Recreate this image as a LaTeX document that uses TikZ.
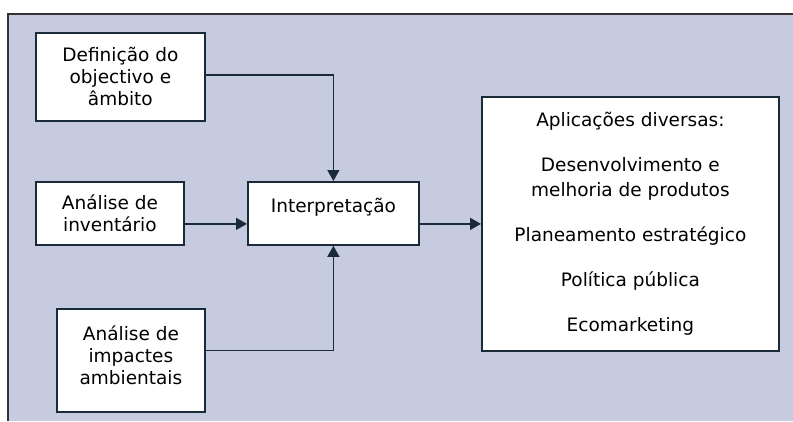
\documentclass[tikz,border=0pt]{standalone}
\usepackage{fontspec}
\setmainfont{DejaVu Sans}
\usepackage{xcolor}
\definecolor{acvBack}{rgb}{0.776,0.796,0.878}
\definecolor{acvBorder}{rgb}{0.1,0.17,0.22}
\usetikzlibrary{arrows.meta}
\usetikzlibrary{positioning}
\tikzstyle{phase} = [draw=acvBorder, line width=1.8pt, fill=white, anchor=north west,
        inner sep=0pt, align=center, font={\fontsize{18.5}{22}\selectfont}]
\tikzstyle{link} = [draw=acvBorder, line width=1.6pt, -{Triangle[length=11pt,width=12pt]}]

\begin{document}
\begin{tikzpicture}[x=1pt, y=-1pt]
    \useasboundingbox (0,0) rectangle (793,421);
    \fill[acvBack] (8,14) rectangle (793,421);
    \draw[line width=1.8pt, black!80] (8,421) -- (8,14) -- (793,14);
    % phases
    \node [phase, minimum width=169pt, minimum height=88pt] (goal) at (35,32)
        {Definição do\\objectivo e\\âmbito};
    \node [phase, minimum width=148pt, minimum height=63pt] (inventory) at (35,181)
        {Análise de\\inventário};
    \node [phase, minimum width=171pt, minimum height=63pt, text depth=16pt] (interp) at (247,181)
        {Interpretação};
    \node [phase, minimum width=148pt, minimum height=103pt, text depth=10pt] (impact) at (56,308)
        {Análise de\\impactes\\ambientais};
    \node [phase, minimum width=297pt, minimum height=254pt, font={\fontsize{18.5}{25}\selectfont}] (apps) at (481,96)
        {Aplicações diversas:\\[20pt]Desenvolvimento e\\melhoria de produtos\\[20pt]Planeamento estratégico\\[20pt]Política pública\\[20pt]Ecomarketing};
    % links
    \draw [link] ([yshift=2pt]goal.east) -| (interp.north);
    \draw [link] (inventory.east |- apps.west) -- (interp.west |- apps.west);
    \draw [link] ([yshift=10pt]impact.east) -| (interp.south);
    \draw [link] (interp.east |- apps.west) -- (apps.west);
\end{tikzpicture}
\end{document}
